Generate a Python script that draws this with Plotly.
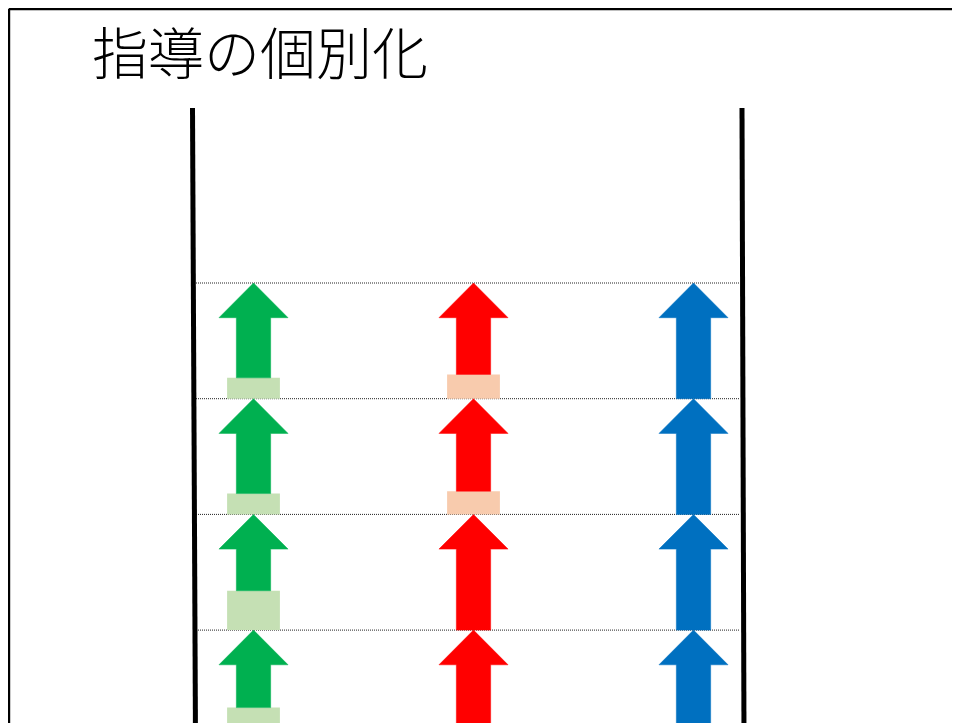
import plotly.graph_objects as go

# ---- data ----
title_text = "指導の個別化"
groups = ["green", "red", "blue"]
levels = [0, 1, 2, 3]                      # row index (top boundary of each step)
# fraction of each step covered by the arrow (remainder = pale "gap" box)
green_reach = [0.82, 0.82, 0.66, 0.67]
red_reach = [0.79, 0.80, 1.00, 1.00]
blue_reach = [1.00, 1.00, 1.00, 1.00]
reach = {"green": green_reach, "red": red_reach, "blue": blue_reach}

# ---- styles ----
arrow_color = {"green": "#00B050", "red": "#FF0000", "blue": "#0070C0"}
gap_color = {"green": "#C5E0B4", "red": "#F8CBAD", "blue": "#BDD7EE"}
head_half = 0.157     # x units
shaft_half = 0.078
box_half = 0.12
head_len = 0.30       # y units
OFF = 8               # page body margin in the screenshot
W, H = 960, 723
col_px0, col_px_step = 253.5 - OFF, 220.0
row_px0, row_px_step = 283.0 - OFF, 115.7

fig = go.Figure()

for gi, g in enumerate(groups):
    c = gi
    for lv, r in zip(levels, reach[g]):
        top = lv
        bot = lv + r
        if r < 1.0:
            fig.add_trace(go.Scatter(
                x=[c - box_half, c + box_half, c + box_half, c - box_half, c - box_half],
                y=[bot, bot, lv + 1, lv + 1, bot],
                mode="lines", fill="toself", fillcolor=gap_color[g],
                line=dict(width=0, color=gap_color[g]), hoverinfo="skip", showlegend=False))
        xs = [c, c + head_half, c + shaft_half, c + shaft_half, c - shaft_half, c - shaft_half, c - head_half, c]
        ys = [top, top + head_len, top + head_len, bot, bot, top + head_len, top + head_len, top]
        fig.add_trace(go.Scatter(
            x=xs, y=ys, mode="lines", fill="toself", fillcolor=arrow_color[g],
            line=dict(width=0.5, color=arrow_color[g]), hoverinfo="skip", showlegend=False))

x_range = [(0 - col_px0) / col_px_step, (W - col_px0) / col_px_step]
y_range = [(H - row_px0) / row_px_step, (0 - row_px0) / row_px_step]

def px_x(p):  # screen pixel -> x units
    return (p - OFF - col_px0) / col_px_step

def px_y(p):  # screen pixel -> y units
    return (p - OFF - row_px0) / row_px_step

shapes = []
for lv in levels:
    shapes.append(dict(type="line", xref="x", yref="y", x0=px_x(196), x1=px_x(740), y0=lv, y1=lv,
                       line=dict(color="#222222", width=1, dash="1px,1px"), layer="below"))
shapes.append(dict(type="line", xref="x", yref="y", x0=px_x(192.5), x1=px_x(195.5), y0=px_y(108), y1=px_y(740),
                   line=dict(color="black", width=5)))
shapes.append(dict(type="line", xref="x", yref="y", x0=px_x(742), x1=px_x(744), y0=px_y(108), y1=px_y(740),
                   line=dict(color="black", width=5)))
# outer frame (top & left edges)
shapes.append(dict(type="line", xref="paper", yref="paper", x0=0.001, x1=1.01, y0=0.9985, y1=0.9985,
                   line=dict(color="black", width=2.5)))
shapes.append(dict(type="line", xref="paper", yref="paper", x0=0.001, x1=0.001, y0=0.999, y1=-0.01,
                   line=dict(color="black", width=2.5)))

fig.update_layout(
    width=W, height=H,
    margin=dict(l=0, r=0, t=0, b=0),
    paper_bgcolor="white", plot_bgcolor="white",
    xaxis=dict(range=x_range, visible=False, fixedrange=True),
    yaxis=dict(range=y_range, visible=False, fixedrange=True),
    shapes=shapes,
    annotations=[dict(text=title_text, xref="paper", yref="paper", x=(260 - OFF) / W, y=1.0,
                      xanchor="center", yanchor="top", borderpad=0, showarrow=False,
                      font=dict(family="Noto Sans CJK JP", size=56, color="black", weight=300))],
)

fig.write_html("out.html")
